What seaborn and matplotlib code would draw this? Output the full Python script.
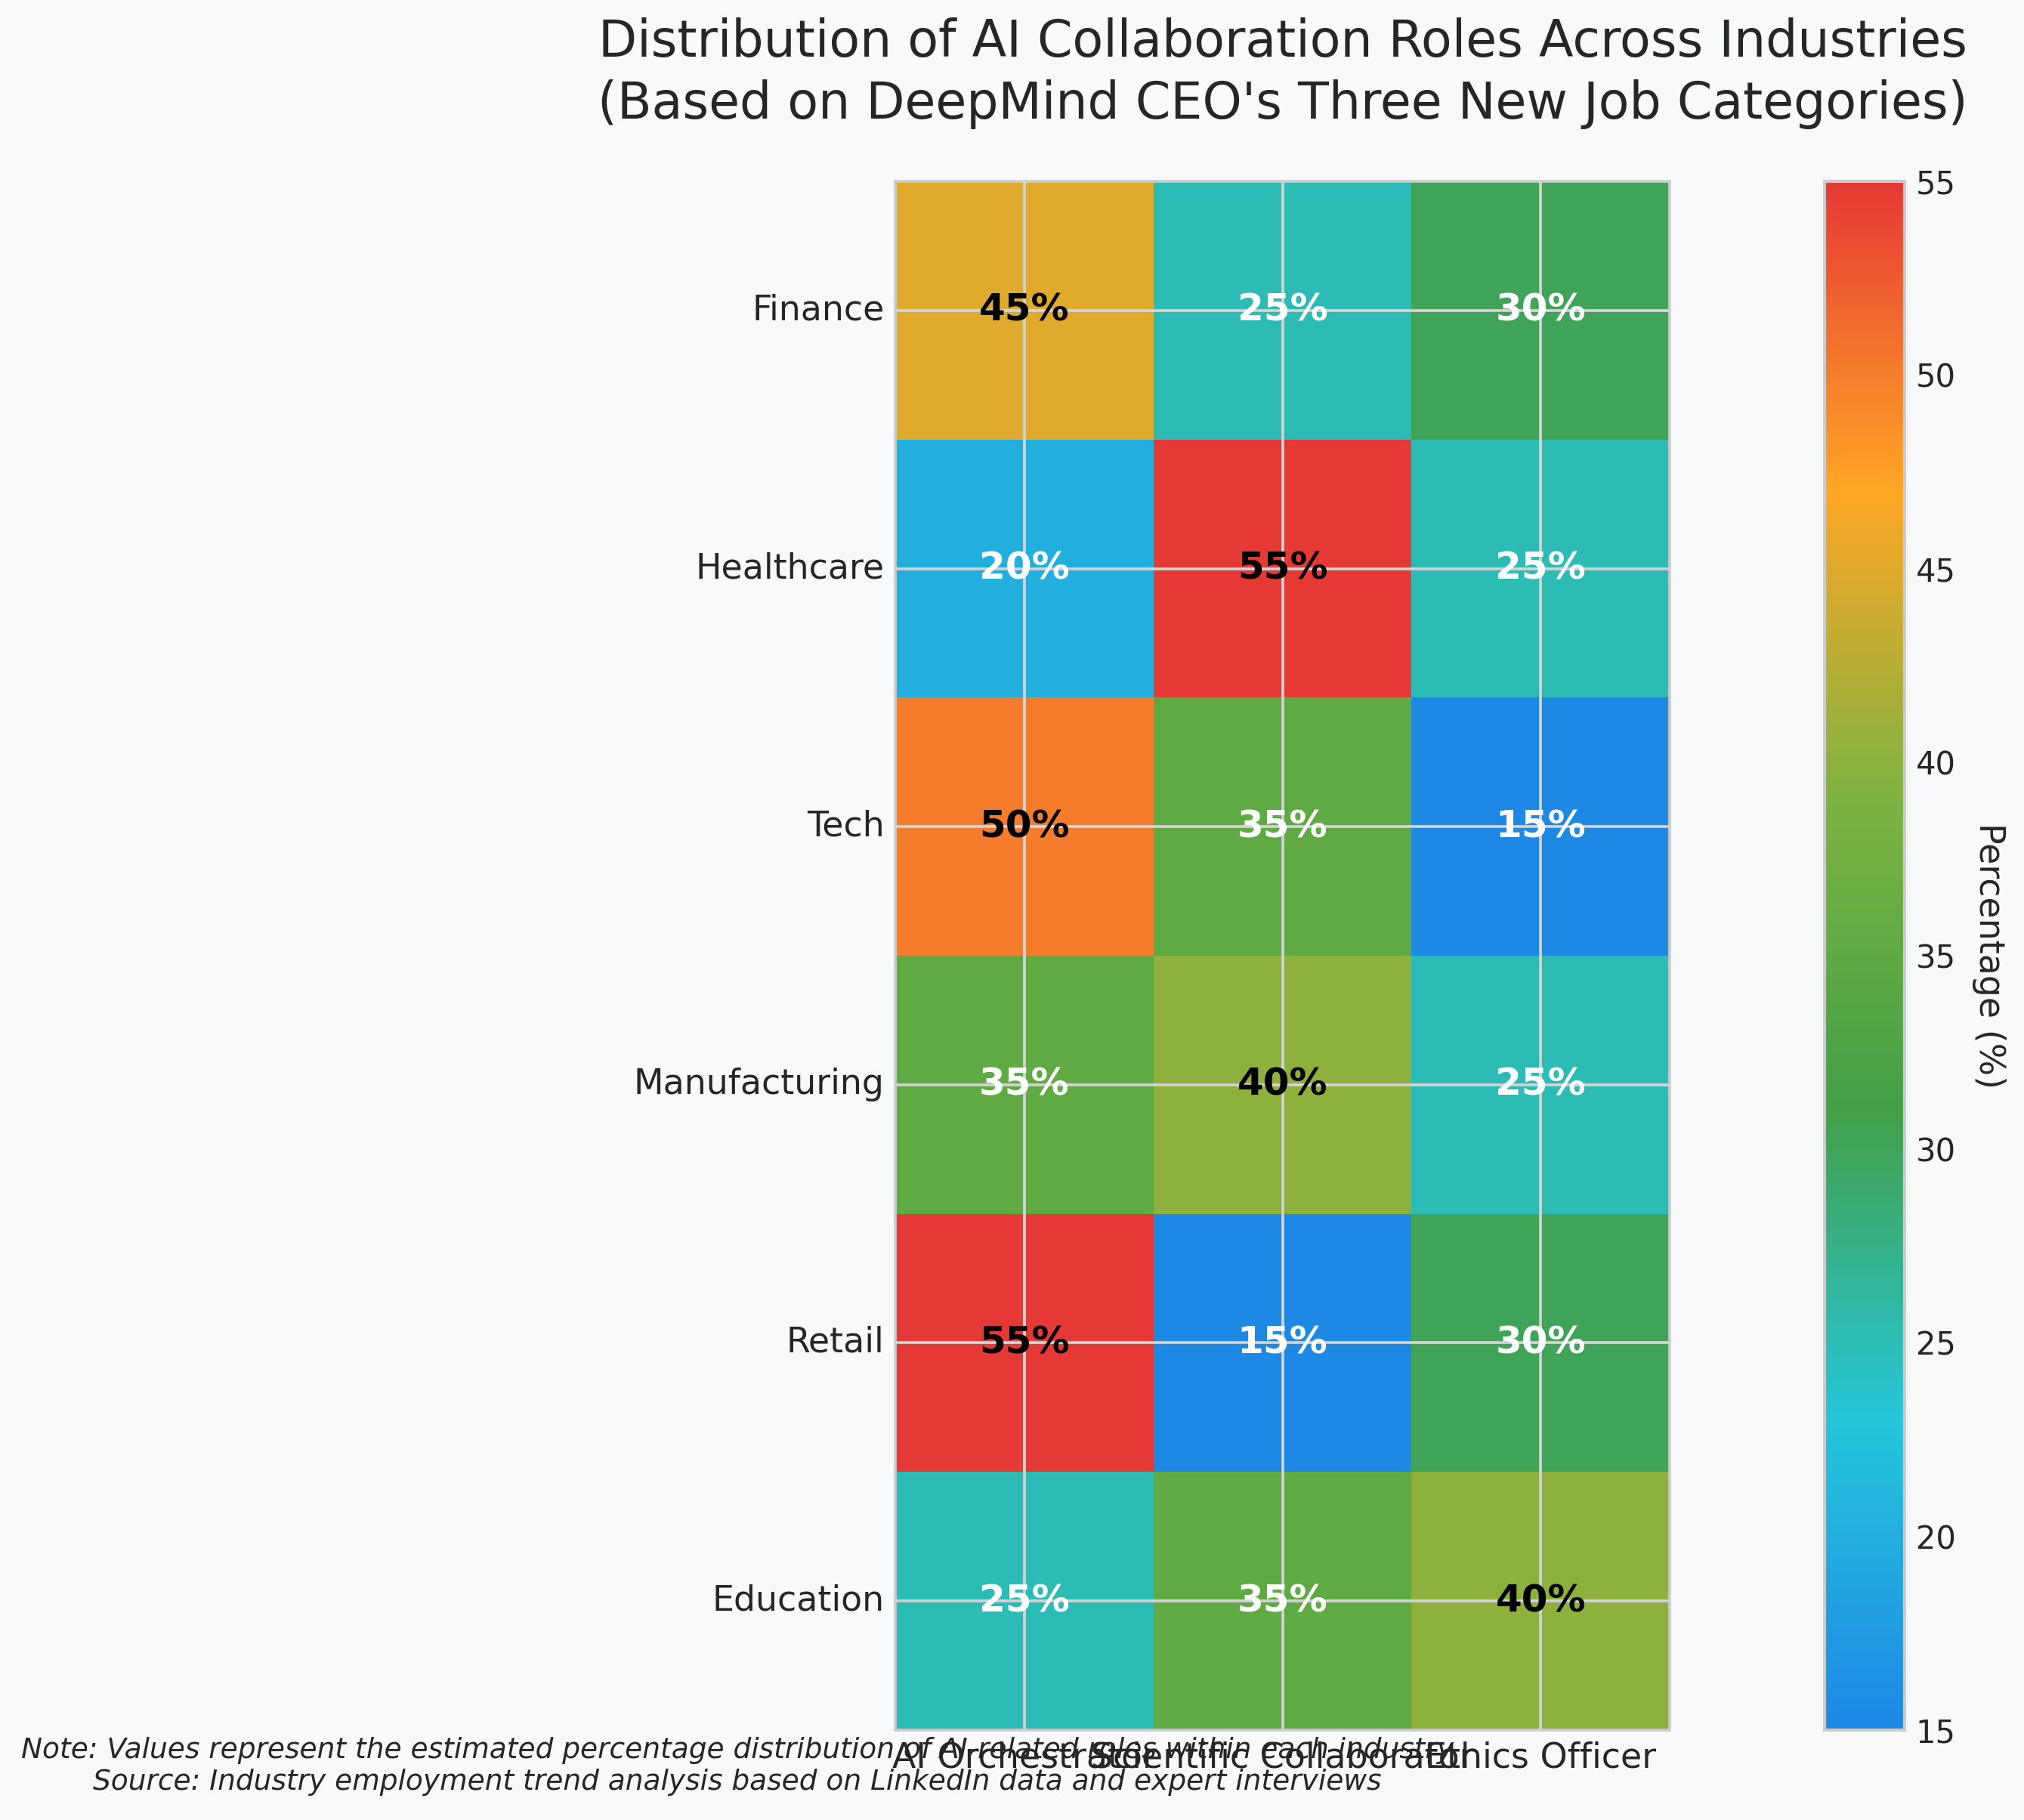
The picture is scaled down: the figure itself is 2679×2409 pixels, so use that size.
import numpy as np
import pandas as pd
import matplotlib
matplotlib.use("Agg")
import matplotlib.pyplot as plt
import seaborn as sns
from matplotlib.colors import LinearSegmentedColormap

# ---- data ----
industries = ["Finance", "Healthcare", "Tech", "Manufacturing", "Retail", "Education"]
roles = ["AI Orchestrator", "Scientific Collaborator", "Ethics Officer"]
ai_orchestrator = [45, 20, 50, 35, 55, 25]
scientific_collaborator = [25, 55, 35, 40, 15, 35]
ethics_officer = [30, 25, 15, 25, 30, 40]
cbar_ticks = [15, 20, 25, 30, 35, 40, 45, 50, 55]

title = ("Distribution of AI Collaboration Roles Across Industries\n"
         "(Based on DeepMind CEO's Three New Job Categories)")
note = ("Note: Values represent the estimated percentage distribution of AI-related roles within each industry\n"
        "Source: Industry employment trend analysis based on LinkedIn data and expert interviews")

# ---- style ----
sns.set_theme(style="whitegrid")
plt.rcParams["font.family"] = ["DejaVu Sans"]
bg = "#F8F9FA"
W, H = 2679, 2409
fig = plt.figure(figsize=(W / 300, H / 300), dpi=300, facecolor=bg)

ax = fig.add_axes([1185 / W, 1 - 2290 / H, 1025 / W, 2050 / H])
cax = fig.add_axes([2415 / W, 1 - 2290 / H, 106 / W, 2050 / H])
ax.set_facecolor(bg)

df = pd.DataFrame({roles[0]: ai_orchestrator,
                   roles[1]: scientific_collaborator,
                   roles[2]: ethics_officer}, index=industries)

cmap = LinearSegmentedColormap.from_list(
    "ai_roles", ["#1E88E5", "#26C6DA", "#43A047", "#7CB342", "#FFA726", "#E53935"])

labels = df.map(lambda v: f"{v}%")
sns.heatmap(df, ax=ax, cbar_ax=cax, cmap=cmap, vmin=15, vmax=55, square=True,
            annot=labels, fmt="", linewidths=0,
            annot_kws={"fontsize": 12, "fontweight": "bold"})

# annotation colors: dark text on bright cells
vals = df.values.flatten()
for t, v in zip(ax.texts, vals):
    t.set_color("black" if v >= 40 else "white")

ax.set_xlabel("")
ax.set_ylabel("")
ax.tick_params(axis="both", length=0, labelsize=11, colors="#262626", pad=3.5)
plt.setp(ax.get_yticklabels(), rotation=0)
plt.setp(ax.get_xticklabels(), rotation=0)

ax.set_axisbelow(False)
ax.grid(True, color="#D3D3D3", linewidth=0.9)
for s in ax.spines.values():
    s.set_visible(True)
    s.set_color("#CCCCCC")
    s.set_linewidth(0.9)

ax.set_title(title, fontsize=16, color="#262626", pad=20, linespacing=1.3)

cbar = ax.collections[0].colorbar
cbar.set_ticks(cbar_ticks)
cbar.ax.tick_params(labelsize=10, length=0, colors="#262626", pad=3.5)
cbar.outline.set_visible(True)
cbar.outline.set_edgecolor("#CCCCCC")
cbar.outline.set_linewidth(1.0)
cbar.set_label("Percentage (%)", rotation=270, labelpad=16, fontsize=11, color="#262626")

fig.text(976 / W, 1 - 2338 / H, note, ha="center", va="center", fontsize=9,
         style="italic", color="#262626")

fig.savefig("out.png", dpi=300, facecolor=bg)
